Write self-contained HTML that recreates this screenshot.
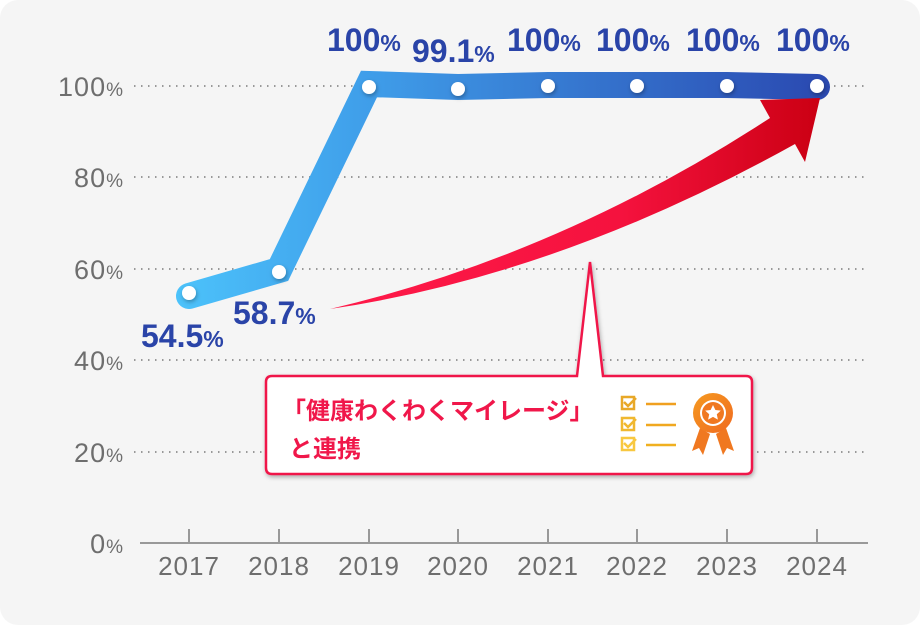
<!DOCTYPE html>
<html><head><meta charset="utf-8"><style>
body{margin:0;background:#fff}
svg{display:block}
text{font-family:"Liberation Sans","Noto Sans CJK JP",sans-serif}
</style></head><body>
<svg width="920" height="625" viewBox="0 0 920 625">
<defs>
<linearGradient id="bl" x1="175" y1="0" x2="830" y2="0" gradientUnits="userSpaceOnUse">
<stop offset="0" stop-color="#4cc3fb"/><stop offset="0.3" stop-color="#3f9de9"/><stop offset="1" stop-color="#2a48b0"/></linearGradient>
<linearGradient id="rd" x1="330" y1="0" x2="815" y2="0" gradientUnits="userSpaceOnUse">
<stop offset="0" stop-color="#ff1a4a"/><stop offset="0.6" stop-color="#f5123e"/><stop offset="1" stop-color="#cc0014"/></linearGradient>
<linearGradient id="or" x1="0" y1="0" x2="1" y2="1"><stop offset="0" stop-color="#f59a20"/><stop offset="1" stop-color="#f06a20"/></linearGradient>
<filter id="sh"><feDropShadow dx="1" dy="2" stdDeviation="2" flood-opacity="0.3"/></filter>
</defs>
<rect x="0" y="0" width="920" height="625" rx="18" fill="#f5f5f5"/>
<g stroke="#999" stroke-width="2" stroke-dasharray="1.5 5.5">
<line x1="134" y1="86" x2="868" y2="86"/><line x1="134" y1="177" x2="868" y2="177"/>
<line x1="134" y1="269" x2="868" y2="269"/><line x1="134" y1="360" x2="868" y2="360"/>
<line x1="134" y1="452" x2="868" y2="452"/>
</g>
<line x1="140" y1="543" x2="868" y2="543" stroke="#999" stroke-width="2"/>
<g stroke="#999" stroke-width="2">
<line x1="189" y1="529" x2="189" y2="543"/><line x1="279" y1="529" x2="279" y2="543"/><line x1="369" y1="529" x2="369" y2="543"/><line x1="458" y1="529" x2="458" y2="543"/><line x1="548" y1="529" x2="548" y2="543"/><line x1="637" y1="529" x2="637" y2="543"/><line x1="727" y1="529" x2="727" y2="543"/><line x1="817" y1="529" x2="817" y2="543"/>
</g>
<g fill="#6e6e6e" font-size="27" text-anchor="end" letter-spacing="1">
<text x="124" y="96">100<tspan font-size="19">%</tspan></text>
<text x="124" y="187">80<tspan font-size="19">%</tspan></text>
<text x="124" y="279">60<tspan font-size="19">%</tspan></text>
<text x="124" y="370">40<tspan font-size="19">%</tspan></text>
<text x="124" y="462">20<tspan font-size="19">%</tspan></text>
<text x="124" y="553">0<tspan font-size="19">%</tspan></text>
</g>
<g fill="#6e6e6e" font-size="26" text-anchor="middle" letter-spacing="1">
<text x="189" y="575">2017</text><text x="279" y="575">2018</text><text x="369" y="575">2019</text><text x="458" y="575">2020</text><text x="548" y="575">2021</text><text x="637" y="575">2022</text><text x="727" y="575">2023</text><text x="817" y="575">2024</text>
</g>
<polyline points="189,292 279,266 369,80 458,83 548,81 637,81 727,81 817,83" fill="none" stroke="url(#bl)" stroke-width="26" stroke-linejoin="miter" stroke-linecap="round" transform="translate(0,4)"/>
<g fill="#fff" filter="url(#sh)">
<circle cx="189" cy="293" r="7"/><circle cx="279" cy="272" r="7"/><circle cx="369" cy="87" r="7"/><circle cx="458" cy="89" r="7"/><circle cx="548" cy="86" r="7"/><circle cx="637" cy="86" r="7"/><circle cx="727" cy="86" r="7"/><circle cx="817" cy="86" r="7"/>
</g>
<path d="M330,309 Q560,255 770,118 L760,100 L820,98 L805,162 L795,144 Q560,275 330,309 Z" fill="url(#rd)"/>
<g fill="#2a44a8" font-weight="bold" font-size="32">
<text x="141" y="347">54.5<tspan font-size="23">%</tspan></text>
<text x="233" y="324">58.7<tspan font-size="23">%</tspan></text>
<text x="327" y="51">100<tspan font-size="23">%</tspan></text>
<text x="412" y="62">99.1<tspan font-size="23">%</tspan></text>
<text x="507" y="51">100<tspan font-size="23">%</tspan></text>
<text x="596" y="51">100<tspan font-size="23">%</tspan></text>
<text x="686" y="51">100<tspan font-size="23">%</tspan></text>
<text x="776" y="51">100<tspan font-size="23">%</tspan></text>
</g>
<g filter="url(#sh)">
<path d="M272,376 H577 L590,262 L603,376 H746 Q752,376 752,382 V468 Q752,474 746,474 H272 Q266,474 266,468 V382 Q266,376 272,376 Z" fill="#fff" stroke="#f0174a" stroke-width="2.5"/>
</g>
<g fill="#f0174a" font-weight="bold" font-size="24">
<text x="282" y="419">「健康わくわくマイレージ」</text>
<text x="289" y="457">と連携</text>
</g>
<g stroke-width="2.5" fill="none">
<rect x="622" y="397" width="12" height="12" stroke="#e8a828"/>
<path d="M624,402 l4,4 l8,-8" stroke="#e8a828"/><line x1="646" y1="404" x2="676" y2="404" stroke="#f0a020"/>
<rect x="622" y="418" width="12" height="12" stroke="#f0b830"/>
<path d="M624,423 l4,4 l8,-8" stroke="#f0b830"/><line x1="646" y1="425" x2="676" y2="425" stroke="#f0a820"/>
<rect x="622" y="438" width="12" height="12" stroke="#f8c840"/>
<path d="M624,443 l4,4 l8,-8" stroke="#f8c840"/><line x1="646" y1="445" x2="676" y2="445" stroke="#f0b020"/>
</g>
<path d="M700,428 L692,451 L699,448 L703,455 L710,434 Z M726,428 L734,451 L727,448 L723,455 L716,434 Z" fill="#f07820"/>
<circle cx="713" cy="413" r="20" fill="url(#or)"/>
<circle cx="713" cy="413" r="13" fill="#fff"/>
<circle cx="713" cy="413" r="11" fill="#f07820"/>
<path d="M713,405 l2.4,5 5.4,.6 -4,3.7 1.1,5.3 -4.9,-2.7 -4.9,2.7 1.1,-5.3 -4,-3.7 5.4,-.6 Z" fill="#fff"/>
</svg>
</body></html>
